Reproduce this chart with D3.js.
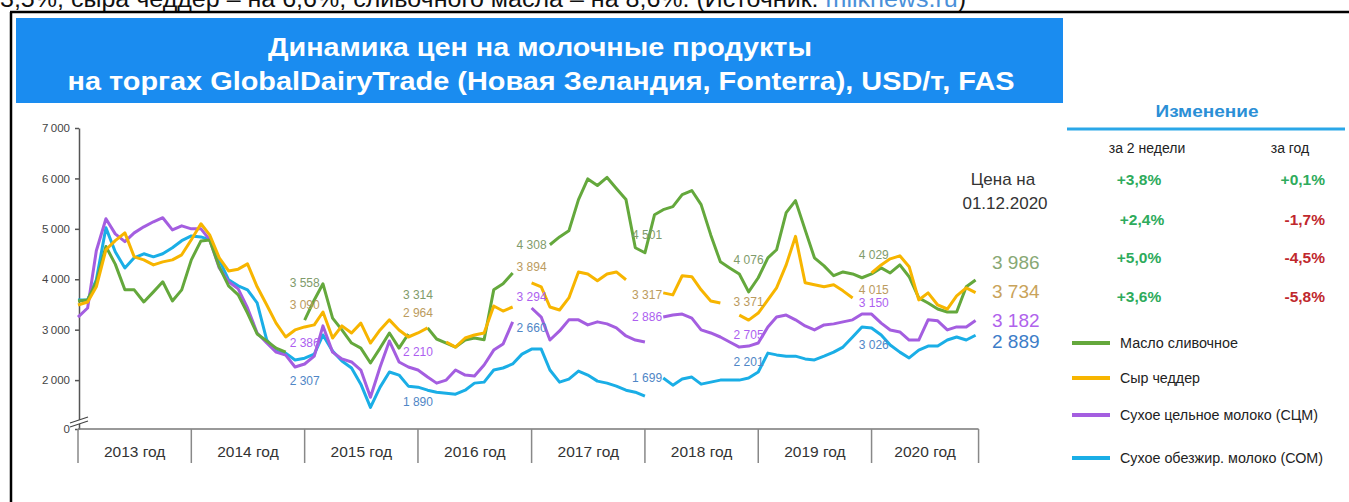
<!DOCTYPE html>
<html>
<head>
<meta charset="utf-8">
<script src="https://cdn.jsdelivr.net/npm/d3@7"></script>
<style>
  body { margin: 0; background: #fff; overflow: hidden; }
  svg { display: block; font-family: "Liberation Sans", Arial, sans-serif; }
</style>
</head>
<body>
<svg width="1349" height="502"></svg>
<script>
  // monthly GDT prices, USD/t, Jan 2013 .. 01.12.2020 (null = gap in the line)
  var months = d3.timeMonth.range(new Date(2013, 0, 1), new Date(2020, 11, 2))

  var butter = [
    3570, 3590, 3950, 4650, 4300, 3790, 3790, 3550, 3750, 3950, 3570, 3790,
    4385, 4760, 4780, 4245, 3870, 3690, 3330, 2915, 2775, 2635, 2555, null,
    3190, 3590, 3910, 3230, 2995, 2735, 2635, 2340, 2635, 2935, 2635, 2915,
    null, 3035, 2815, 2735, 2655, 2795, 2835, 2800, 3790, 3910, 4125, null,
    null, null, 4685, 4840, 4960, 5580, 5990, 5860, 6020, 5800, 5580, 4625,
    4525, 5280, 5380, 5440, 5680, 5760, 5480, 4880, 4345, 4225, 4105, 3750,
    4030, 4425, 4585, 5320, 5560, 4980, 4425, 4265, 4070, 4145, 4105, 4030,
    4105, 4225, 4125, 4285, 4050, 3630, 3530, 3410, 3350, 3350, 3850, 3986
  ]
  var cheddar = [
    3490, 3550, 3850, 4585, 4765, 4920, 4445, 4385, 4285, 4345, 4385, 4485,
    4785, 5100, 4880, 4425, 4165, 4200, 4305, 3850, 3490, 3130, 2855, 2995,
    3055, 3095, 3350, 2835, 3075, 2935, 3130, 2735, 2995, 3195, 2995, 2855,
    2935, 3035, null, 2755, 2655, 2835, 2895, 2935, 3470, 3370, 3450, null,
    3930, 3850, 3450, 3390, 3630, 4145, 4105, 3970, 4105, 4145, 3990, null,
    null, null, 3730, 3690, 4070, 4050, 3790, 3570, 3530, null, 3290, 3190,
    3330, 3590, 3830, 4285, 4850, 3930, 3890, 3850, 3890, 3770, 3630, null,
    4125, 4285, 4405, 4465, 4250, 3590, 3730, 3490, 3410, 3670, 3830, 3734
  ]
  var wmp = [
    3250, 3430, 4565, 5200, 4900, 4745, 4920, 5040, 5140, 5220, 4980, 5060,
    5000, 5000, 4785, 4225, 3950, 3810, 3430, 2935, 2735, 2555, 2495, 2260,
    2320, 2475, 3075, 2555, 2420, 2360, 2200, 1660, 2260, 2775, 2360, 2260,
    2200, 2060, 1940, 2000, 2200, 2100, 2080, 2300, 2595, 2715, 3155, null,
    3430, 3250, 2795, 2975, 3195, 3195, 3095, 3155, 3115, 3035, 2875, 2795,
    2755, null, 3250, 3290, 3310, 3230, 2995, 2935, 2855, 2755, 2655, 2675,
    2735, 3055, 3250, 3290, 3195, 3075, 2995, 3095, 3115, 3155, 3195, 3310,
    3310, 3130, 2995, 2955, 2795, 2795, 3195, 3175, 2995, 3055, 3055, 3182
  ]
  var smp = [
    3590, 3590, 3990, 5020, 4545, 4225, 4425, 4505, 4445, 4505, 4625, 4765,
    4860, 4840, 4785, 4385, 3990, 3870, 3790, 3530, 2795, 2575, 2535, 2400,
    2435, 2515, 2895, 2575, 2380, 2240, 1920, 1460, 1860, 2160, 2100, 1880,
    1860, 1800, 1760, 1740, 1720, 1800, 1940, 1960, 2200, 2240, 2320, 2515,
    2615, 2615, 2200, 1960, 2020, 2180, 2100, 1980, 1940, 1880, 1800, 1760,
    1680, null, 2040, 1900, 2020, 2060, 1920, 1960, 2000, 2000, 2000, 2040,
    2160, 2535, 2500, 2475, 2475, 2420, 2400, 2475, 2555, 2655, 2855, 3055,
    3035, 2895, 2695, 2555, 2440, 2595, 2675, 2675, 2795, 2855, 2795, 2889
  ]

  var seriesNames = ["Масло сливочное", "Сыр чеддер", "Сухое цельное молоко (СЦМ)", "Сухое обезжир. молоко (СОМ)"]
  var lastPrices = ["3 986", "3 734", "3 182", "2 889"]
  var change2w = ["+3,8%", "+2,4%", "+5,0%", "+3,6%"]
  var changeYear = ["+0,1%", "-1,7%", "-4,5%", "-5,8%"]
  var yearLabels = ["2013 год", "2014 год", "2015 год", "2016 год", "2017 год", "2018 год", "2019 год", "2020 год"]
  var yTicks = [0, 2000, 3000, 4000, 5000, 6000, 7000]

  // in-chart price callouts: [text, series, date, level]
  var callouts = [
    ["3 558", 0, "2015-01-01", 3930], ["3 090", 1, "2015-01-01", 3490], ["2 386", 2, "2015-01-01", 2735], ["2 307", 3, "2015-01-01", 1980],
    ["3 314", 0, "2016-01-01", 3690], ["2 964", 1, "2016-01-01", 3330], ["2 210", 2, "2016-01-01", 2555], ["1 890", 3, "2016-01-01", 1560],
    ["4 308", 0, "2017-01-01", 4685], ["3 894", 1, "2017-01-01", 4245], ["3 294", 2, "2017-01-01", 3650], ["2 660", 3, "2017-01-01", 3035],
    ["4 501", 0, "2018-01-08", 4880], ["3 317", 1, "2018-01-08", 3690], ["2 886", 2, "2018-01-08", 3250], ["1 699", 3, "2018-01-08", 2040],
    ["4 076", 0, "2018-12-01", 4385], ["3 371", 1, "2018-12-01", 3550], ["2 705", 2, "2018-12-01", 2895], ["2 201", 3, "2018-12-01", 2360],
    ["4 029", 0, "2020-01-08", 4485], ["4 015", 1, "2020-01-08", 3790], ["3 150", 2, "2020-01-08", 3530], ["3 026", 3, "2020-01-08", 2695]
  ]

  var lineColors = ["#64a83c", "#f7b500", "#a45ee0", "#1aaee6"]
  var calloutColors = ["#7f9b6b", "#bb9b5e", "#ad5ff0", "#4f86c6"]
  var endColors = ["#88a874", "#c9a35a", "#b063ec", "#3d7dc8"]
  var posColor = "#2eab5c", negColor = "#c0282d"

  var svg = d3.select("svg")

  // page bits around the picture (the article line above is cut by the screenshot)
  var pageText = svg.append("text").attr("x", 0).attr("y", 7).attr("font-size", 23).attr("fill", "#111")
    .attr("textLength", 966).attr("lengthAdjust", "spacingAndGlyphs")
  pageText.append("tspan").text("3,5%, сыра чеддер – на 6,6%, сливочного масла – на 8,6%. (Источник: ")
  pageText.append("tspan").attr("fill", "#4a90d9").text("milknews.ru")
  pageText.append("tspan").text(")")
  svg.append("line").attr("x1", 10).attr("x2", 1349).attr("y1", 12).attr("y2", 12).attr("stroke", "#000").attr("stroke-width", 2.5)
  svg.append("line").attr("x1", 11).attr("x2", 11).attr("y1", 12).attr("y2", 502).attr("stroke", "#000").attr("stroke-width", 2.5)

  // title box
  svg.append("rect").attr("x", 16).attr("y", 18).attr("width", 1047).attr("height", 85).attr("fill", "#1a8cf0")
  svg.append("text").attr("x", 540).attr("y", 56).attr("text-anchor", "middle").attr("fill", "#fff")
    .attr("font-size", 26).attr("font-weight", "bold").attr("textLength", 544).attr("lengthAdjust", "spacingAndGlyphs")
    .text("Динамика цен на молочные продукты")
  svg.append("text").attr("x", 541).attr("y", 90).attr("text-anchor", "middle").attr("fill", "#fff")
    .attr("font-size", 26).attr("font-weight", "bold").attr("textLength", 947).attr("lengthAdjust", "spacingAndGlyphs")
    .text("на торгах GlobalDairyTrade (Новая Зеландия, Fonterra), USD/т, FAS")

  // scales
  var x = d3.scaleTime()
    .domain([new Date(2013, 0, 1), new Date(2021, 0, 1)])
    .range([78, 78 + 8 * 113.4])
  var y = d3.scaleLinear().domain([0, 1050, 7000]).range([429, 428, 128])

  var lastX = x(months[months.length - 1])
  var axisY = y(0)

  // y axis
  var yAxis = d3.axisLeft(y)
    .tickValues(yTicks)
    .tickSize(4)
    .tickSizeOuter(0)
    .tickFormat(function (d) { return d3.format(",")(d).replace(",", "\u2009") })
  var ya = svg.append("g").attr("transform", "translate(79,0)").call(yAxis)
  ya.select(".domain").attr("stroke", "#555").attr("stroke-width", 1.5)
  ya.selectAll(".tick line").attr("stroke", "#555").attr("stroke-width", 1.5)
  ya.selectAll(".tick text").attr("font-size", 11.5).attr("fill", "#444").attr("x", -9)
    .attr("font-family", "'Liberation Sans', Arial, sans-serif")

  // axis break marks
  var br = svg.append("g").attr("transform", "translate(79," + (axisY - 9) + ")")
  br.append("path").attr("d", "M-9,3 L9,-3 L9,1 L-9,7 Z").attr("fill", "#fff")
  br.append("line").attr("x1", -9).attr("y1", 3).attr("x2", 9).attr("y2", -3).attr("stroke", "#444").attr("stroke-width", 1.3)
  br.append("line").attr("x1", -9).attr("y1", 7).attr("x2", 9).attr("y2", 1).attr("stroke", "#444").attr("stroke-width", 1.3)

  // x axis: baseline, year dividers, year labels
  var years = d3.timeYear.range(new Date(2013, 0, 1), new Date(2021, 0, 1))
  svg.append("line").attr("x1", 78).attr("x2", lastX + 3).attr("y1", axisY).attr("y2", axisY)
    .attr("stroke", "#777").attr("stroke-width", 1.5)
  var divX = years.map(function (d) { return x(d) }).concat([lastX + 3])
  svg.append("g").selectAll("line").data(divX).enter().append("line")
    .attr("x1", function (d) { return d }).attr("x2", function (d) { return d })
    .attr("y1", axisY).attr("y2", axisY + 34)
    .attr("stroke", "#888").attr("stroke-width", 1.5)
  svg.append("g").selectAll("text").data(years).enter().append("text")
    .attr("x", function (d, i) { return (divX[i] + divX[i + 1]) / 2 })
    .attr("y", axisY + 28)
    .attr("text-anchor", "middle").attr("font-size", 15.5).attr("fill", "#333")
    .text(function (d, i) { return yearLabels[i] })

  // price lines
  var allSeries = [butter, cheddar, wmp, smp]
  var line = d3.line()
    .defined(function (d) { return d.v != null })
    .x(function (d) { return x(d.date) })
    .y(function (d) { return y(d.v) })
  var drawOrder = [3, 2, 0, 1]
  svg.append("g").selectAll("path").data(drawOrder).enter().append("path")
    .attr("d", function (s) {
      return line(months.map(function (m, i) { return { date: m, v: allSeries[s][i] } }))
    })
    .attr("fill", "none")
    .attr("stroke", function (s) { return lineColors[s] })
    .attr("stroke-width", 3)
    .attr("stroke-linejoin", "round")

  // callouts
  svg.append("g").selectAll("text").data(callouts).enter().append("text")
    .attr("x", function (c) { return x(new Date(c[2])) })
    .attr("y", function (c) { return y(c[3]) })
    .attr("dy", "0.35em")
    .attr("text-anchor", "middle")
    .attr("font-size", 12)
    .attr("fill", function (c) { return calloutColors[c[1]] })
    .text(function (c) { return c[0] })

  // price on 01.12.2020
  svg.append("text").attr("x", 1003).attr("y", 185).attr("text-anchor", "middle").attr("font-size", 17).attr("fill", "#333").text("Цена на")
  svg.append("text").attr("x", 1005).attr("y", 209).attr("text-anchor", "middle").attr("font-size", 17).attr("fill", "#333").text("01.12.2020")
  var endY = [269, 298, 327, 348]
  svg.append("g").selectAll("text").data(lastPrices).enter().append("text")
    .attr("x", 992).attr("y", function (d, i) { return endY[i] })
    .attr("font-size", 19).attr("fill", function (d, i) { return endColors[i] })
    .text(function (d) { return d })

  // change table
  svg.append("text").attr("x", 1207).attr("y", 117).attr("text-anchor", "middle").attr("font-size", 17)
    .attr("font-weight", "bold").attr("fill", "#2b8fd6").attr("textLength", 103).attr("lengthAdjust", "spacingAndGlyphs")
    .text("Изменение")
  svg.append("line").attr("x1", 1067).attr("x2", 1345).attr("y1", 129).attr("y2", 129).attr("stroke", "#2aa7e8").attr("stroke-width", 3)
  svg.append("text").attr("x", 1147).attr("y", 153).attr("text-anchor", "middle").attr("font-size", 14).attr("fill", "#222").text("за 2 недели")
  svg.append("text").attr("x", 1290).attr("y", 153).attr("text-anchor", "middle").attr("font-size", 14).attr("fill", "#222").text("за год")
  var rowY = [185, 225, 263, 302]
  var colorOf = function (s) { return s.charAt(0) === "-" ? negColor : posColor }
  svg.append("g").selectAll("text").data(change2w).enter().append("text")
    .attr("x", function (d, i) { return i === 1 ? 1142 : 1139 }).attr("y", function (d, i) { return rowY[i] })
    .attr("text-anchor", "middle").attr("font-size", 15.5).attr("font-weight", "bold")
    .attr("fill", colorOf).text(function (d) { return d })
  svg.append("g").selectAll("text").data(changeYear).enter().append("text")
    .attr("x", 1325).attr("y", function (d, i) { return rowY[i] })
    .attr("text-anchor", "end").attr("font-size", 15.5).attr("font-weight", "bold")
    .attr("fill", colorOf).text(function (d) { return d })

  // legend
  var legY = [343, 378, 415, 458]
  var legW = [118, 80, 198, 203]
  var leg = svg.append("g").selectAll("g").data(seriesNames).enter().append("g")
    .attr("transform", function (d, i) { return "translate(1072," + legY[i] + ")" })
  leg.append("line").attr("x1", 0).attr("x2", 38).attr("stroke-width", 4)
    .attr("stroke", function (d, i) { return lineColors[i] })
  leg.append("text").attr("x", 48).attr("y", 5).attr("font-size", 14).attr("fill", "#222")
    .attr("textLength", function (d, i) { return legW[i] }).attr("lengthAdjust", "spacingAndGlyphs")
    .text(function (d) { return d })
</script>
</body>
</html>
